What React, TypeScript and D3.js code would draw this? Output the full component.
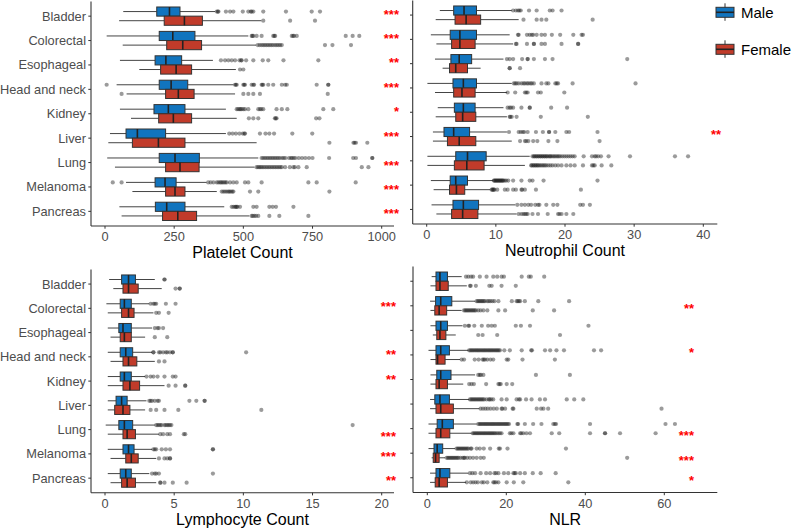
import React from 'react';
import * as d3 from 'd3';

// cancer types, top to bottom
const categories = ['Bladder', 'Colorectal', 'Esophageal', 'Head and neck', 'Kidney', 'Liver', 'Lung', 'Melanoma', 'Pancreas'];
const sexes = ['Male', 'Female'];

// box stats: [lower whisker, q1, median, q3, upper whisker]
const plateletMale = [
  [66, 187, 233, 271, 398], [6, 196, 245, 325, 518], [54, 181, 220, 277, 390],
  [42, 196, 239, 299, 464], [54, 177, 229, 289, 437], [18, 76, 117, 219, 437],
  [8, 196, 253, 341, 554], [76, 181, 217, 257, 367], [52, 182, 223, 289, 431],
];
const plateletFemale = [
  [51, 214, 287, 352, 565], [64, 223, 281, 349, 546], [124, 201, 257, 313, 473],
  [78, 219, 265, 322, 470], [94, 194, 247, 313, 476], [12, 99, 193, 289, 548],
  [36, 219, 271, 340, 540], [99, 219, 253, 289, 404], [60, 208, 263, 331, 522],
];
const plateletMaleOut = [
  [404, 408, 410, 437, 452, 464, 498, 518, 527, 530, 536, 572, 654, 747, 777],
  [530, 533, 536, 548, 566, 608, 612, 615, 675, 680, 683, 693, 870, 895, 919],
  [419, 434, 446, 458, 470, 486, 492, 494, 510, 536, 570, 590, 645, 771],
  [6, 470, 473, 476, 500, 503, 506, 530, 536, 539, 566, 569, 572, 590, 608, 639, 651, 657, 765, 807, 807],
  [476, 481, 486, 490, 494, 500, 506, 518, 554, 560, 565, 572, 620, 639, 659, 789, 825],
  [449, 461, 473, 486, 498, 504, 506, 560, 580, 594, 611, 677, 749],
  [566, 572, 578, 584, 590, 596, 602, 608, 614, 620, 626, 632, 640, 646, 652, 665, 672, 676, 682, 688, 700, 712, 724, 737, 750, 810, 897, 907, 966, 966],
  [28, 60, 373, 382, 392, 404, 410, 416, 420, 425, 430, 435, 440, 452, 464, 476, 506, 518, 566, 735, 765, 906],
  [458, 464, 470, 473, 476, 479, 488, 536, 548, 594, 606, 618, 681],
];
const plateletFemaleOut = [
  [572, 669, 759],
  [552, 559, 566, 572, 578, 584, 590, 596, 602, 608, 615, 621, 627, 633, 639, 795, 822, 889],
  [488, 500],
  [60, 500, 518, 536, 560, 805],
  [520, 536, 554, 614, 617, 620, 763, 775],
  [811, 898, 902, 907, 948],
  [548, 553, 558, 563, 568, 574, 580, 586, 592, 598, 604, 610, 616, 622, 628, 634, 639, 651, 668, 681, 686, 699, 729, 928, 952],
  [422, 428, 434, 440, 446, 450, 455, 460, 464, 524, 554, 811],
  [530, 534, 540, 546, 554, 594, 630, 735],
];

const neutrophilMale = [
  [1.9, 3.9, 5.4, 7.2, 12.3], [0.6, 3.4, 4.8, 7.2, 12.0], [1.2, 3.5, 4.7, 6.5, 11.1],
  [0.1, 3.8, 5.3, 7.2, 12.3], [1.6, 4.0, 5.3, 7.0, 11.1], [0.9, 2.5, 3.9, 6.2, 11.6],
  [0.1, 4.2, 5.9, 8.6, 14.9], [0.6, 3.4, 4.2, 5.9, 9.6], [0.7, 3.8, 5.3, 7.5, 12.8],
];
const neutrophilFemale = [
  [1.3, 4.1, 5.7, 7.8, 13.3], [1.4, 3.6, 4.8, 7.0, 12.5], [2.3, 3.3, 4.2, 5.9, 7.8],
  [1.2, 3.9, 5.1, 7.0, 11.6], [1.3, 4.2, 5.2, 7.1, 11.6], [0.9, 3.0, 4.7, 7.1, 12.3],
  [0.1, 4.0, 5.8, 8.3, 14.2], [1.0, 3.3, 4.3, 5.5, 9.2], [1.4, 3.6, 5.2, 7.4, 13.0],
];
const neutrophilMaleOut = [
  [12.5, 12.9, 13.2, 13.4, 13.6, 14.8, 15.9, 17.8, 18.2, 19.5],
  [13.2, 13.3, 14.5, 14.9, 15.2, 15.4, 15.9, 16.6, 17.1, 18.1, 19.3, 21.2, 22.4, 22.6],
  [11.6, 12.0, 12.5, 13.8, 14.6, 14.6, 15.5, 17.1, 18.2, 29.0],
  [12.6, 12.8, 13.0, 13.3, 13.7, 14.0, 14.2, 14.5, 14.7, 15.0, 15.2, 15.5, 16.6, 17.3, 17.6, 18.6, 18.8, 19.0, 21.1, 30.2],
  [11.7, 12.0, 12.2, 12.5, 13.7, 14.9, 14.9, 18.0, 20.3],
  [11.9, 13.3, 13.6, 13.9, 14.1, 14.6, 15.8, 16.8, 17.7, 17.7, 18.6, 20.2, 20.6, 24.7],
  [15.3, 15.5, 15.6, 15.8, 15.9, 16.1, 16.2, 16.4, 16.5, 16.7, 16.8, 17.0, 17.1, 17.3, 17.4, 17.6, 17.8, 17.9, 18.1, 18.3, 18.5, 18.7, 18.9, 19.1, 19.3, 19.6, 19.9, 20.2, 20.5, 20.8, 21.1, 21.4, 22.7, 23.9, 24.3, 24.5, 24.8, 25.2, 26.3, 29.4, 35.9, 37.8],
  [9.7, 9.8, 9.9, 10.0, 10.1, 10.2, 10.3, 10.4, 10.5, 10.6, 10.7, 10.8, 10.9, 11.0, 11.1, 11.3, 11.5, 11.8, 12.5, 13.7, 14.9, 15.3, 16.9, 24.7],
  [13.1, 13.7, 14.2, 14.7, 15.1, 15.7, 16.1, 16.3, 17.3, 18.3, 18.9, 22.2, 22.6, 23.6],
];
const neutrophilFemaleOut = [
  [14.0, 15.9, 16.6, 17.3, 24.0],
  [12.9, 13.0, 14.5, 15.5, 15.5, 16.6, 17.1, 19.5, 21.9, 21.9],
  [12.0, 12.0, 13.5],
  [11.7, 12.8, 14.2, 14.4, 14.6, 16.1, 16.5, 19.9],
  [12.0, 12.1, 12.3, 13.0, 16.5, 23.3],
  [13.5, 14.2, 14.4, 14.7, 15.4, 16.0, 17.6, 18.9, 25.0],
  [15.1, 15.2, 15.4, 15.5, 15.7, 15.8, 16.0, 16.1, 16.3, 16.5, 16.7, 16.9, 17.1, 17.3, 17.6, 17.9, 18.2, 18.6, 19.0, 19.5, 20.2, 20.8, 21.4, 22.6, 23.9, 24.1, 24.3, 25.3, 26.7],
  [9.4, 9.5, 9.6, 9.7, 9.8, 10.2, 11.3, 11.7, 12.5, 12.9, 13.7, 13.8, 14.2, 15.8, 22.3],
  [13.3, 13.7, 14.0, 14.2, 14.4, 14.6, 15.3, 16.1, 17.5, 19.0, 19.2, 19.5, 20.2, 21.2],
];

const lymphocyteMale = [
  [0.3, 1.2, 1.7, 2.2, 3.6], [0.1, 1.1, 1.4, 1.9, 3.2], [0.2, 1.0, 1.3, 1.9, 3.4],
  [0.2, 1.1, 1.5, 2.0, 3.4], [0.2, 1.1, 1.4, 1.9, 2.9], [0.2, 0.8, 1.2, 1.6, 3.0],
  [0.05, 1.0, 1.4, 2.0, 3.6], [0.2, 1.3, 1.7, 2.1, 3.4], [0.2, 1.1, 1.5, 1.9, 3.2],
];
const lymphocyteFemale = [
  [0.6, 1.3, 1.7, 2.4, 4.1], [0.2, 1.2, 1.7, 2.1, 3.5], [0.4, 1.1, 1.4, 1.9, 2.9],
  [0.4, 1.3, 1.7, 2.3, 3.6], [0.2, 1.3, 1.8, 2.5, 4.3], [0.2, 0.7, 1.3, 1.8, 2.9],
  [0.2, 1.3, 1.6, 2.2, 3.9], [0.4, 1.5, 1.9, 2.4, 3.7], [0.4, 1.2, 1.6, 2.2, 3.7],
];
const lymphocyteMaleOut = [
  [4.3, 4.3],
  [3.3, 3.5, 3.6, 3.7, 4.4, 5.1],
  [3.6, 3.8, 3.9, 4.2],
  [3.5, 3.5, 3.9, 4.0, 4.2, 4.4, 4.5, 4.7, 4.9, 4.9, 10.2],
  [3.0, 3.3, 3.5, 3.8, 4.3, 4.9, 5.1],
  [3.2, 3.3, 3.4, 3.6, 3.8, 3.9, 6.1, 6.6, 7.2, 7.2],
  [3.7, 3.8, 3.9, 4.0, 4.1, 4.3, 4.4, 4.5, 4.6, 4.7, 4.8, 17.9],
  [3.5, 3.6, 3.7, 4.1, 4.4, 4.7, 7.8, 7.8],
  [3.4, 3.6, 3.7, 3.9, 7.8],
];
const lymphocyteFemaleOut = [
  [5.1, 5.4, 5.4],
  [3.7, 3.9, 4.6],
  [3.6, 4.5],
  [3.9, 4.3],
  [4.6, 5.1, 5.8, 5.8],
  [3.3, 3.7, 4.3, 5.3, 11.3],
  [4.0, 4.2, 4.5, 4.7, 5.7, 5.8],
  [3.9, 4.3, 4.5, 4.7, 4.7],
  [4.0, 4.0, 4.3, 4.9, 5.9],
];

const nlrMale = [
  [1.1, 2.2, 3.2, 5.1, 8.7], [0.7, 2.1, 3.4, 6.2, 12.1], [0.8, 2.2, 3.4, 5.1, 8.9],
  [0.3, 2.2, 3.4, 5.6, 10.4], [0.8, 2.4, 3.4, 6.0, 12.1], [0.7, 1.9, 3.2, 5.6, 10.6],
  [0.3, 2.5, 3.8, 6.6, 12.5], [0.3, 1.7, 2.5, 3.9, 7.0], [0.7, 2.2, 3.2, 5.7, 10.4],
];
const nlrFemale = [
  [0.8, 2.2, 3.2, 5.3, 10.0], [0.8, 1.9, 3.0, 4.9, 8.7], [1.4, 2.4, 3.2, 4.7, 7.2],
  [0.8, 2.2, 2.6, 4.5, 8.3], [0.8, 2.2, 3.0, 5.1, 9.1], [0.7, 2.2, 3.4, 6.6, 13.2],
  [0.3, 2.2, 3.4, 5.7, 11.2], [1.1, 1.5, 2.1, 3.0, 4.5], [0.7, 2.0, 3.0, 5.1, 9.8],
];
const nlrMaleOut = [
  [9.8, 10.4, 11.1, 11.6, 13.3, 15.0, 16.7, 17.7, 18.8, 19.4, 23.9, 25.7, 26.2, 29.6],
  [12.5, 12.8, 13.1, 13.4, 13.7, 14.0, 14.3, 14.6, 15.2, 15.6, 16.0, 16.5, 17.0, 18.0, 21.4, 22.6, 22.9, 23.2, 23.5, 24.7, 28.1, 35.9],
  [9.5, 10.4, 10.6, 11.9, 13.8, 15.4, 16.3, 17.1, 22.4, 23.7, 26.0, 40.8],
  [10.6, 10.9, 11.2, 11.5, 11.8, 12.1, 12.4, 12.7, 13.0, 13.3, 13.6, 13.9, 14.2, 14.5, 14.8, 15.1, 15.4, 15.7, 16.0, 16.3, 16.6, 16.9, 17.2, 17.5, 17.8, 18.1, 18.4, 19.5, 20.9, 23.9, 26.3, 26.5, 29.8, 31.1, 32.7, 34.6, 42.2, 44.0],
  [12.9, 13.3, 13.6, 14.2, 27.5, 36.1],
  [10.8, 11.1, 11.4, 11.7, 12.0, 12.3, 12.6, 12.9, 13.2, 13.5, 13.8, 14.1, 14.4, 15.0, 15.6, 15.8, 16.2, 16.7, 18.8, 20.1, 22.6, 23.2, 23.5, 25.0, 26.4, 28.5, 29.8, 35.3, 37.2, 39.5],
  [12.9, 13.2, 13.5, 13.8, 14.1, 14.4, 14.7, 15.0, 15.3, 15.6, 15.9, 16.2, 16.5, 16.8, 17.1, 17.4, 17.7, 18.0, 18.3, 18.6, 18.9, 19.2, 19.5, 19.8, 20.1, 20.4, 20.7, 22.8, 23.0, 24.7, 26.8, 28.9, 31.9, 32.3, 32.6, 41.2, 60.3, 62.7],
  [7.4, 7.7, 8.0, 8.3, 8.6, 8.9, 9.2, 9.5, 9.8, 10.1, 10.4, 11.0, 11.2, 12.5, 13.3, 14.3, 15.9, 18.1, 18.4, 20.3, 35.1],
  [10.8, 11.4, 12.1, 13.5, 14.9, 15.9, 17.0, 17.4, 18.0, 19.4, 20.5, 21.8, 22.1, 22.4, 23.5, 24.7, 26.7, 28.7, 32.5],
];
const nlrFemaleOut = [
  [10.8, 11.0, 12.3, 15.7, 16.3, 18.8, 22.4],
  [9.3, 9.6, 9.9, 10.2, 10.5, 10.8, 11.1, 11.4, 11.7, 12.0, 12.3, 12.9, 13.5, 14.2, 15.2, 18.0, 19.7, 26.7, 32.1],
  [12.9, 14.0, 17.7, 33.6],
  [8.7, 9.3, 12.0, 13.0, 14.0, 14.3, 14.6, 15.2, 16.0, 16.7, 20.1, 20.5, 24.1, 32.3],
  [10.6, 11.2, 11.8, 14.9, 18.0, 18.3, 18.6, 20.1, 21.5],
  [13.5, 14.1, 14.7, 15.3, 16.0, 16.8, 17.6, 18.8, 19.0, 19.7, 21.6, 21.8, 27.7, 28.8, 29.4, 30.6, 59.3],
  [11.5, 11.8, 12.1, 12.4, 12.7, 13.0, 13.3, 13.6, 13.9, 14.2, 14.5, 14.8, 15.1, 15.4, 15.7, 16.0, 16.3, 16.6, 16.9, 17.2, 17.6, 18.0, 18.4, 18.8, 20.9, 21.3, 21.8, 23.5, 23.8, 24.3, 25.1, 26.0, 31.5, 33.4, 41.2, 45.0, 45.0, 48.8, 57.8],
  [4.9, 5.2, 5.5, 5.8, 6.1, 6.4, 6.7, 7.0, 7.3, 7.6, 7.9, 8.4, 9.0, 9.3, 9.5, 10.1, 10.8, 11.6, 12.5, 13.5, 14.3, 50.6],
  [10.0, 11.0, 11.6, 12.2, 12.8, 13.8, 14.3, 15.2, 16.7, 17.0, 17.4, 18.0, 20.1, 21.9, 24.3, 35.7],
];

// significance stars and which row of the pair they sit beside (m / f / c = between)
const plateletSig = ['***', '***', '**', '***', '*', '***', '***', '***', '***'];
const plateletSigRow = ['m', 'm', 'm', 'm', 'm', 'm', 'c', 'c', 'c'];
const neutrophilSig = ['', '', '', '', '', '**', '', '', ''];
const neutrophilSigRow = ['c', 'c', 'c', 'c', 'c', 'm', 'c', 'c', 'c'];
const lymphocyteSig = ['', '***', '', '**', '**', '', '***', '***', '**'];
const lymphocyteSigRow = ['c', 'm', 'c', 'm', 'm', 'c', 'f', 'c', 'c'];
const nlrSig = ['', '**', '', '*', '', '', '***', '***', '*'];
const nlrSigRow = ['c', 'c', 'c', 'm', 'c', 'c', 'f', 'f', 'c'];

const plateletTicks = [0, 250, 500, 750, 1000];
const neutrophilTicks = [0, 10, 20, 30, 40];
const lymphocyteTicks = [0, 5, 10, 15, 20];
const nlrTicks = [0, 20, 40, 60];

const FONT = '"Liberation Sans", Arial, Helvetica, sans-serif';
const fills = { Male: '#1174BE', Female: '#C13B2A' };

const panels = [
  { title: 'Platelet Count', male: plateletMale, female: plateletFemale, maleOut: plateletMaleOut, femaleOut: plateletFemaleOut,
    sig: plateletSig, sigRow: plateletSigRow, ticks: plateletTicks,
    left: 91, right: 394, top: 1.5, bottom: 226, zero: 105, end: 381.7, starX: 399, labels: true },
  { title: 'Neutrophil Count', male: neutrophilMale, female: neutrophilFemale, maleOut: neutrophilMaleOut, femaleOut: neutrophilFemaleOut,
    sig: neutrophilSig, sigRow: neutrophilSigRow, ticks: neutrophilTicks,
    left: 412.7, right: 717.3, top: 0.5, bottom: 224, zero: 426.7, end: 703.3, starX: 721, labels: false },
  { title: 'Lymphocyte Count', male: lymphocyteMale, female: lymphocyteFemale, maleOut: lymphocyteMaleOut, femaleOut: lymphocyteFemaleOut,
    sig: lymphocyteSig, sigRow: lymphocyteSigRow, ticks: lymphocyteTicks,
    left: 91, right: 394, top: 269.5, bottom: 492.7, zero: 105, end: 381.7, starX: 396, labels: true },
  { title: 'NLR', male: nlrMale, female: nlrFemale, maleOut: nlrMaleOut, femaleOut: nlrFemaleOut,
    sig: nlrSig, sigRow: nlrSigRow, ticks: nlrTicks,
    left: 413, right: 717.3, top: 266.5, bottom: 492.5, zero: 427.3, end: 664.3, starX: 694, labels: false },
];

function Panel({ p }: { p: any }) {
  const x = d3.scaleLinear().domain([0, p.ticks[p.ticks.length - 1]]).range([p.zero, p.end]);
  const y = d3.scalePoint().domain(categories).range([p.top, p.bottom]).padding(0.6);
  const step = y.step();
  const dodge = d3.scaleBand().domain(sexes).range([-step * 0.375, step * 0.375]);
  const bh = dodge.bandwidth();

  const boxes = categories.flatMap((c, i) =>
    sexes.map((s) => {
      const st = s === 'Male' ? p.male[i] : p.female[i];
      const out = s === 'Male' ? p.maleOut[i] : p.femaleOut[i];
      return { c, s, st, out, y0: (y(c) as number) + (dodge(s) as number) };
    })
  );
  const rowOffset = { m: -bh / 2, f: bh / 2, c: 0 } as any;

  return (
    <g>
      {boxes.map((b, k) => {
        const cy = b.y0 + bh / 2;
        const [lo, q1, md, q3, hi] = b.st;
        return (
          <g key={k}>
            <line x1={x(lo)} x2={x(q1)} y1={cy} y2={cy} stroke="#444" strokeWidth={1} />
            <line x1={x(q3)} x2={x(hi)} y1={cy} y2={cy} stroke="#444" strokeWidth={1} />
            {b.out.map((v: number, j: number) => (
              <circle key={j} cx={x(v)} cy={cy} r={2.1} fill="#222" fillOpacity={0.45} />
            ))}
            <rect x={x(q1)} y={b.y0} width={x(q3) - x(q1)} height={bh} fill={(fills as any)[b.s]} stroke="#333" strokeWidth={1} />
            <line x1={x(md)} x2={x(md)} y1={b.y0} y2={b.y0 + bh} stroke="#222" strokeWidth={1.6} />
          </g>
        );
      })}

      {p.sig.map((t: string, i: number) =>
        t ? (
          <text key={'s' + i} x={p.starX} y={(y(categories[i]) as number) + rowOffset[p.sigRow[i]] + 7}
            textAnchor="end" fontSize={13} fontWeight="bold" fill="#FF0000" fontFamily={FONT}>{t}</text>
        ) : null
      )}

      {/* axes */}
      <line x1={p.left} x2={p.left} y1={p.top} y2={p.bottom} stroke="#333" strokeWidth={1.1} />
      <line x1={p.left} x2={p.right} y1={p.bottom} y2={p.bottom} stroke="#333" strokeWidth={1.1} />
      {categories.map((c) => (
        <g key={c}>
          <line x1={p.left - 2.7} x2={p.left} y1={y(c)} y2={y(c)} stroke="#333" strokeWidth={1} />
          {p.labels && (
            <text x={p.left - 5} y={(y(c) as number) + 4.5} textAnchor="end" fontSize={12.8} fill="#4D4D4D" fontFamily={FONT}>{c}</text>
          )}
        </g>
      ))}
      {p.ticks.map((t: number) => (
        <g key={t}>
          <line x1={x(t)} x2={x(t)} y1={p.bottom} y2={p.bottom + 2.7} stroke="#333" strokeWidth={1} />
          <text x={x(t)} y={p.bottom + 15} textAnchor="middle" fontSize={12.8} fill="#4D4D4D" fontFamily={FONT}>{t}</text>
        </g>
      ))}
      <text x={(p.left + p.right) / 2} y={p.bottom + 32} textAnchor="middle" fontSize={16} fill="#000" fontFamily={FONT}>{p.title}</text>
    </g>
  );
}

function Legend() {
  const ly = d3.scalePoint().domain(sexes).range([12.3, 49.3]);
  return (
    <g>
      {sexes.map((s) => {
        const cy = ly(s) as number;
        return (
          <g key={s}>
            <line x1={725} x2={725} y1={cy - 9} y2={cy + 8.5} stroke="#333" strokeWidth={1} />
            <rect x={716} y={cy - 5} width={18} height={10} fill={(fills as any)[s]} stroke="#333" strokeWidth={1} />
            <line x1={716} x2={734} y1={cy} y2={cy} stroke="#222" strokeWidth={1.6} />
            <text x={741} y={cy + 5.4} fontSize={15} fill="#000" fontFamily={FONT}>{s}</text>
          </g>
        );
      })}
    </g>
  );
}

export default function App() {
  return (
    <svg width={800} height={528} viewBox="0 0 800 528" style={{ position: 'absolute', left: 0, top: 0, background: '#fff' }}>
      {panels.map((p) => (
        <Panel key={p.title} p={p} />
      ))}
      <Legend />
    </svg>
  );
}
